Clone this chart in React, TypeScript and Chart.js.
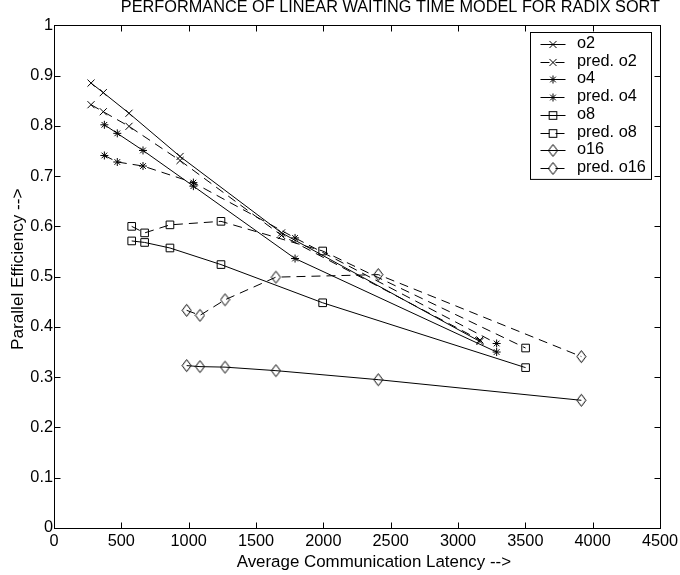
import React, { useEffect, useRef } from "react";
import { Chart, registerables } from "chart.js";

Chart.register(...registerables);

const FONT_FAMILY = '"Liberation Sans", Arial, Helvetica, sans-serif';
const FONT_SIZE = 16.3;
const X_LABEL_SIZE = 16.9;
const Y_LABEL_SIZE = 17.2;

const chartTitle = "PERFORMANCE OF LINEAR WAITING TIME MODEL FOR RADIX SORT";
const xAxisTitle = "Average Communication Latency -->";
const yAxisTitle = "Parallel Efficiency -->";

const xTickValues = [0, 500, 1000, 1500, 2000, 2500, 3000, 3500, 4000, 4500];
const yTickValues = [0, 0.1, 0.2, 0.3, 0.4, 0.5, 0.6, 0.7, 0.8, 0.9, 1];

// Average communication latency for each overhead configuration
const latencyO2 = [275, 366, 557, 936, 1690, 3163];
const latencyO4 = [374, 470, 661, 1035, 1790, 3287];
const latencyO8 = [577, 673, 861, 1240, 1995, 3502];
const latencyO16 = [985, 1084, 1270, 1648, 2408, 3916];

// Measured parallel efficiency
const measuredO2 = [0.885, 0.866, 0.825, 0.739, 0.587, 0.371];
const measuredO4 = [0.802, 0.785, 0.751, 0.68, 0.536, 0.35];
const measuredO8 = [0.571, 0.568, 0.557, 0.524, 0.448, 0.319];
const measuredO16 = [0.323, 0.321, 0.32, 0.313, 0.295, 0.254];

// Efficiency predicted by the linear waiting time model
const predictedO2 = [0.842, 0.828, 0.799, 0.731, 0.582, 0.374];
const predictedO4 = [0.741, 0.728, 0.72, 0.687, 0.577, 0.367];
const predictedO8 = [0.6, 0.587, 0.603, 0.61, 0.551, 0.358];
const predictedO16 = [0.433, 0.423, 0.454, 0.499, 0.504, 0.341];

const seriesLabels = ["o2", "pred. o2", "o4", "pred. o4", "o8", "pred. o8", "o16", "pred. o16"];

const DASH = [9, 6];

function makeDiamond(): HTMLCanvasElement {
  const c = document.createElement("canvas");
  c.width = 11;
  c.height = 15;
  const g = c.getContext("2d")!;
  g.strokeStyle = "#000";
  g.lineWidth = 1;
  g.beginPath();
  g.moveTo(5.5, 1.5);
  g.lineTo(10, 7.5);
  g.lineTo(5.5, 13.5);
  g.lineTo(1, 7.5);
  g.closePath();
  g.stroke();
  return c;
}

type Marker = { style: any; radius: number };

function drawMarker(ctx: CanvasRenderingContext2D, m: Marker, x: number, y: number) {
  const r = m.radius;
  ctx.beginPath();
  if (m.style === "crossRot") {
    const d = r * Math.SQRT1_2;
    ctx.moveTo(x - d, y - d);
    ctx.lineTo(x + d, y + d);
    ctx.moveTo(x - d, y + d);
    ctx.lineTo(x + d, y - d);
    ctx.stroke();
  } else if (m.style === "star") {
    const d = r * Math.SQRT1_2;
    ctx.moveTo(x - r, y);
    ctx.lineTo(x + r, y);
    ctx.moveTo(x, y - r);
    ctx.lineTo(x, y + r);
    ctx.moveTo(x - d, y - d);
    ctx.lineTo(x + d, y + d);
    ctx.moveTo(x - d, y + d);
    ctx.lineTo(x + d, y - d);
    ctx.stroke();
  } else if (m.style === "rect") {
    const s = r * Math.SQRT1_2;
    ctx.strokeRect(x - s, y - s, 2 * s, 2 * s);
  } else if (m.style instanceof HTMLCanvasElement) {
    ctx.drawImage(m.style, x - m.style.width / 2, y - m.style.height / 2);
  }
}

function toPoints(xs: number[], ys: number[]) {
  return xs.map((x, i) => ({ x, y: ys[i] }));
}

// Box frame with inward ticks on all four sides
const axesFramePlugin = {
  id: "axesFrame",
  beforeDatasetsDraw(chart: any) {
    const { ctx, chartArea } = chart;
    const xs = chart.scales.x;
    const ys = chart.scales.y;
    const left = Math.round(chartArea.left) + 0.5;
    const right = Math.round(chartArea.right) + 0.5;
    const top = Math.round(chartArea.top) + 0.5;
    const bottom = Math.round(chartArea.bottom) + 0.5;
    const tick = 6;
    ctx.save();
    ctx.strokeStyle = "#000";
    ctx.lineWidth = 1;
    ctx.setLineDash([]);
    ctx.beginPath();
    xTickValues.forEach((v) => {
      const px = Math.round(xs.getPixelForValue(v)) + 0.5;
      ctx.moveTo(px, bottom);
      ctx.lineTo(px, bottom - tick);
      ctx.moveTo(px, top);
      ctx.lineTo(px, top + tick);
    });
    yTickValues.forEach((v) => {
      const py = Math.round(ys.getPixelForValue(v)) + 0.5;
      ctx.moveTo(left, py);
      ctx.lineTo(left + tick, py);
      ctx.moveTo(right, py);
      ctx.lineTo(right - tick, py);
    });
    ctx.stroke();
    ctx.strokeRect(left, top, right - left, bottom - top);
    ctx.restore();
  },
  afterDraw(chart: any) {
    const { ctx, chartArea } = chart;
    ctx.save();
    ctx.fillStyle = "#000";
    ctx.textAlign = "left";
    ctx.textBaseline = "alphabetic";
    ctx.font = `${X_LABEL_SIZE}px ${FONT_FAMILY}`;
    ctx.fillText(xAxisTitle, chartArea.left + 182.7, chartArea.bottom + 38.7);
    ctx.font = `${Y_LABEL_SIZE}px ${FONT_FAMILY}`;
    ctx.translate(chartArea.left - 31.3, chartArea.bottom - 178);
    ctx.rotate(-Math.PI / 2);
    ctx.fillText(yAxisTitle, 0, 0);
    ctx.restore();
  },
};

const boxLegendPlugin = {
  id: "boxLegend",
  afterDraw(chart: any) {
    const { ctx, chartArea } = chart;
    const boxRight = Math.round(chartArea.right) - 8.5;
    const boxLeft = boxRight - 121;
    const boxTop = Math.round(chartArea.top) + 7.5;
    const rowStep = 17.7;
    const firstRow = boxTop + 11.5;
    const boxBottom = firstRow + rowStep * (seriesLabels.length - 1) + 11.5;
    ctx.save();
    ctx.fillStyle = "#fff";
    ctx.fillRect(boxLeft, boxTop, boxRight - boxLeft, boxBottom - boxTop);
    ctx.strokeStyle = "#000";
    ctx.lineWidth = 1;
    ctx.setLineDash([]);
    ctx.strokeRect(boxLeft, boxTop, boxRight - boxLeft, boxBottom - boxTop);
    ctx.font = `${FONT_SIZE}px ${FONT_FAMILY}`;
    ctx.textBaseline = "middle";
    ctx.textAlign = "left";
    chart.data.datasets.forEach((ds: any, i: number) => {
      const y = Math.round(firstRow + i * rowStep) + 0.5;
      const x0 = boxLeft + 10;
      const x1 = boxLeft + 35;
      ctx.strokeStyle = "#000";
      ctx.setLineDash(ds.borderDash && ds.borderDash.length ? DASH : []);
      ctx.beginPath();
      ctx.moveTo(x0, y);
      ctx.lineTo(x1, y);
      ctx.stroke();
      ctx.setLineDash([]);
      drawMarker(ctx, { style: ds.pointStyle, radius: ds.pointRadius }, (x0 + x1) / 2, y);
      ctx.fillStyle = "#000";
      ctx.fillText(ds.label, boxLeft + 46.5, y - 0.5);
    });
    ctx.restore();
  },
};

export default function App() {
  const canvasRef = useRef<HTMLCanvasElement>(null);

  useEffect(() => {
    document.body.style.margin = "0";
    const diamond = makeDiamond();
    const markers: Marker[] = [
      { style: "crossRot", radius: 5 },
      { style: "star", radius: 4 },
      { style: "rect", radius: 5.4 },
      { style: diamond, radius: 5 },
    ];
    const latencies = [latencyO2, latencyO4, latencyO8, latencyO16];
    const measured = [measuredO2, measuredO4, measuredO8, measuredO16];
    const predicted = [predictedO2, predictedO4, predictedO8, predictedO16];

    const datasets: any[] = [];
    latencies.forEach((lat, k) => {
      [measured[k], predicted[k]].forEach((vals, j) => {
        datasets.push({
          label: seriesLabels[k * 2 + j],
          data: toPoints(lat, vals),
          showLine: true,
          tension: 0,
          fill: false,
          borderColor: "#000",
          borderWidth: 1,
          borderDash: j === 1 ? DASH : [],
          pointStyle: markers[k].style,
          pointRadius: markers[k].radius,
          pointBorderColor: "#000",
          pointBackgroundColor: "rgba(0,0,0,0)",
          pointBorderWidth: 1,
        });
      });
    });

    const tickFont = { family: FONT_FAMILY, size: FONT_SIZE, lineHeight: 1.2 };

    const chart = new Chart(canvasRef.current!, {
      type: "scatter",
      data: { datasets },
      options: {
        responsive: false,
        animation: false,
        devicePixelRatio: 1,
        events: [],
        layout: { padding: { top: 0, right: 20, bottom: 0, left: 0 } },
        plugins: {
          legend: { display: false },
          tooltip: { enabled: false },
          title: {
            display: true,
            text: chartTitle,
            align: "end",
            color: "#000",
            font: { family: FONT_FAMILY, size: FONT_SIZE, weight: "normal", lineHeight: 0.9 },
            padding: { top: 0, bottom: 10.6 },
          },
        },
        scales: {
          x: {
            type: "linear",
            min: 0,
            max: 4500,
            afterBuildTicks: (scale: any) => {
              scale.ticks = xTickValues.map((value) => ({ value }));
            },
            afterFit: (scale: any) => {
              scale.height = 47;
              scale.paddingLeft = 0;
              scale.paddingRight = 0;
            },
            grid: { display: false, drawTicks: false },
            border: { display: false },
            ticks: {
              color: "#000",
              font: tickFont,
              padding: 4,
              maxRotation: 0,
              autoSkip: false,
              callback: (v: any) => String(v),
            },
          },
          y: {
            type: "linear",
            min: 0,
            max: 1,
            afterBuildTicks: (scale: any) => {
              scale.ticks = yTickValues.map((value) => ({ value }));
            },
            afterFit: (scale: any) => {
              scale.width = 54;
              scale.paddingTop = 0;
              scale.paddingBottom = 0;
            },
            grid: { display: false, drawTicks: false },
            border: { display: false },
            ticks: {
              color: "#000",
              font: tickFont,
              padding: 1,
              autoSkip: false,
              callback: (v: any) => String(Math.round(Number(v) * 10) / 10),
            },
          },
        },
      },
      plugins: [axesFramePlugin, boxLegendPlugin],
    } as any);

    return () => chart.destroy();
  }, []);

  return (
    <div style={{ width: 680, height: 575 }}>
      <canvas ref={canvasRef} width={680} height={575} style={{ display: "block" }} />
    </div>
  );
}
